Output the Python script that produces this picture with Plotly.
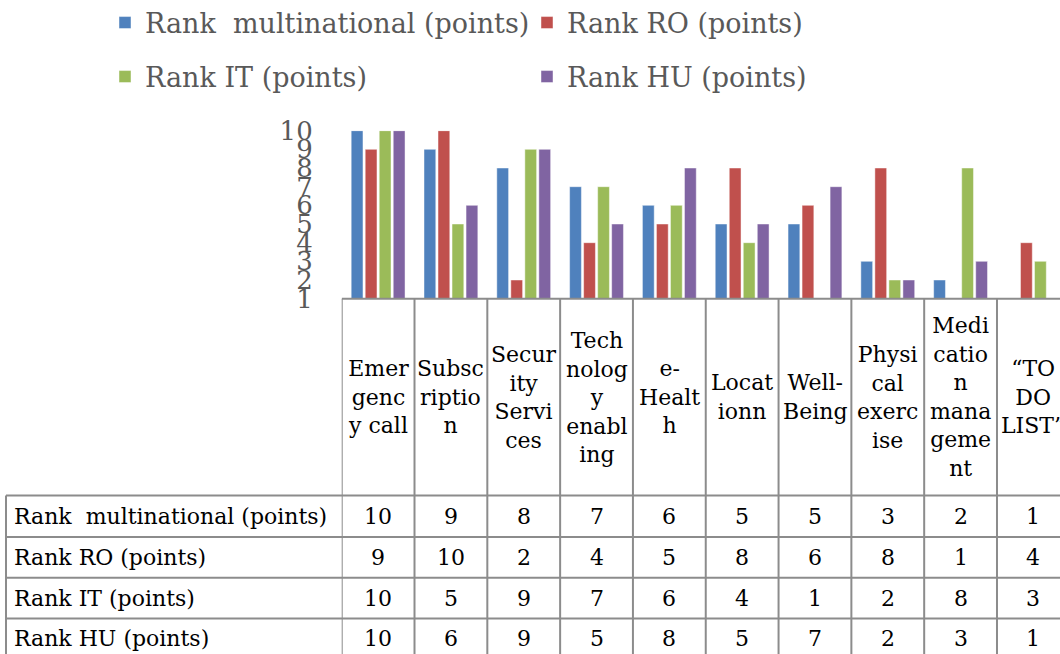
import plotly.graph_objects as go

# ---------------- data ----------------
categories = ["Emergency call", "Subscription", "Security Services", "Technology enabling",
              "e-Health", "Locationn", "Well-Being", "Physical exercise",
              "Medication management", "“TO DO LIST”"]
header_labels = ["Emer<br>genc<br>y call", "Subsc<br>riptio<br>n", "Secur<br>ity<br>Servi<br>ces",
                 "Tech<br>nolog<br>y<br>enabl<br>ing", "e-<br>Healt<br>h", "Locat<br>ionn",
                 "Well-<br>Being", "Physi<br>cal<br>exerc<br>ise",
                 "Medi<br>catio<br>n<br>mana<br>geme<br>nt", "“TO<br>DO<br>LIST”"]
series_names = ["Rank\u00a0 multinational (points)", "Rank RO (points)",
                "Rank IT (points)", "Rank HU (points)"]
rank_multinational = [10, 9, 8, 7, 6, 5, 5, 3, 2, 1]
rank_ro = [9, 10, 2, 4, 5, 8, 6, 8, 1, 4]
rank_it = [10, 5, 9, 7, 6, 4, 1, 2, 8, 3]
rank_hu = [10, 6, 9, 5, 8, 5, 7, 2, 3, 1]
y_ticks = [1, 2, 3, 4, 5, 6, 7, 8, 9, 10]

series_values = [rank_multinational, rank_ro, rank_it, rank_hu]
colors = ["#4F81BD", "#C0504D", "#9BBB59", "#8064A2"]
legend_ids = ["legend", "legend", "legend2", "legend2"]

# ---------------- layout helpers ----------------
W, H = 1060, 654
def px_x(p):
    return p / W
def px_y(p):
    return 1 - p / H

plot_left = 341.7
cat_w = 72.81
n = len(categories)
x_pos = list(range(n))
axis_y = 298.7
top_y = 130.7

SERIF = "DejaVu Serif"
GRAY = "#595959"
LINE = "#8C8C8C"

fig = go.Figure()
for name, vals, col, lg in zip(series_names, series_values, colors, legend_ids):
    fig.add_trace(go.Bar(
        x=x_pos, y=vals, name=name, legend=lg,
        marker=dict(color=col, line=dict(color="rgba(255,255,255,0.45)", width=1)),
        customdata=categories,
        hovertemplate="%{customdata}<br>" + name + ": %{y}<extra></extra>",
    ))

shapes = []
row_tops = [495.5, 537.0, 577.8, 618.5, 659.0]
shapes.append(dict(type="line", xref="x", yref="paper", x0=-0.5, x1=n - 0.5,
                   y0=px_y(axis_y), y1=px_y(axis_y), line=dict(color=LINE, width=2)))
for k in range(n + 1):
    shapes.append(dict(type="line", xref="x", yref="paper", x0=k - 0.5, x1=k - 0.5,
                       y0=px_y(axis_y), y1=px_y(row_tops[-1]), line=dict(color=LINE, width=2)))
shapes.append(dict(type="line", xref="paper", yref="paper", x0=px_x(6), x1=px_x(6),
                   y0=px_y(row_tops[0]), y1=px_y(row_tops[-1]), line=dict(color=LINE, width=2)))
for r in row_tops:
    shapes.append(dict(type="line", xref="paper", yref="paper", x0=px_x(6), x1=1.0,
                       y0=px_y(r), y1=px_y(r), line=dict(color=LINE, width=2)))

annotations = []
header_center = (axis_y + row_tops[0]) / 2
for i, lab in enumerate(header_labels):
    annotations.append(dict(xref="x", yref="paper", x=x_pos[i], y=px_y(header_center),
                            text=lab, showarrow=False, xanchor="center", yanchor="middle",
                            align="center", font=dict(family=SERIF, size=22, color="black")))
for r, (name, vals) in enumerate(zip(series_names, series_values)):
    yc = (row_tops[r] + row_tops[r + 1]) / 2
    annotations.append(dict(xref="paper", yref="paper", x=px_x(12), y=px_y(yc),
                            text=name, showarrow=False, xanchor="left", yanchor="middle",
                            font=dict(family=SERIF, size=22, color="black")))
    for i, v in enumerate(vals):
        annotations.append(dict(xref="x", yref="paper", x=x_pos[i], y=px_y(yc),
                                text=str(v), showarrow=False, xanchor="center", yanchor="middle",
                                font=dict(family=SERIF, size=22, color="black")))

legend_style = dict(orientation="h", xanchor="left", yanchor="middle",
                    font=dict(family=SERIF, size=27, color=GRAY),
                    bgcolor="rgba(0,0,0,0)", borderwidth=0,
                    entrywidth=377, entrywidthmode="pixels", itemclick=False)

fig.update_layout(
    width=W, height=H,
    margin=dict(l=0, r=0, t=0, b=0, autoexpand=False),
    paper_bgcolor="white", plot_bgcolor="white",
    barmode="group", bargap=0.23, bargroupgap=0.16,
    showlegend=True,
    legend=dict(x=px_x(105), y=px_y(23), **legend_style),
    legend2=dict(x=px_x(105), y=px_y(77), **legend_style),
    xaxis=dict(domain=[px_x(plot_left), 1.0],
               range=[-0.5, -0.5 + (W - plot_left) / cat_w],
               showticklabels=False, showgrid=False, zeroline=False, showline=False, ticks=""),
    yaxis=dict(domain=[px_y(axis_y), px_y(top_y)], range=[1, 10],
               tickvals=y_ticks, ticktext=[str(t) for t in y_ticks],
               tickfont=dict(family=SERIF, size=26, color=GRAY),
               ticks="", showgrid=False, zeroline=False, showline=False,
               ticklabelstandoff=28),
    shapes=shapes,
    annotations=annotations,
)

fig.write_html("out.html", config={"displayModeBar": False},
               post_script="document.body.style.margin='0';document.body.style.overflow='hidden';")
